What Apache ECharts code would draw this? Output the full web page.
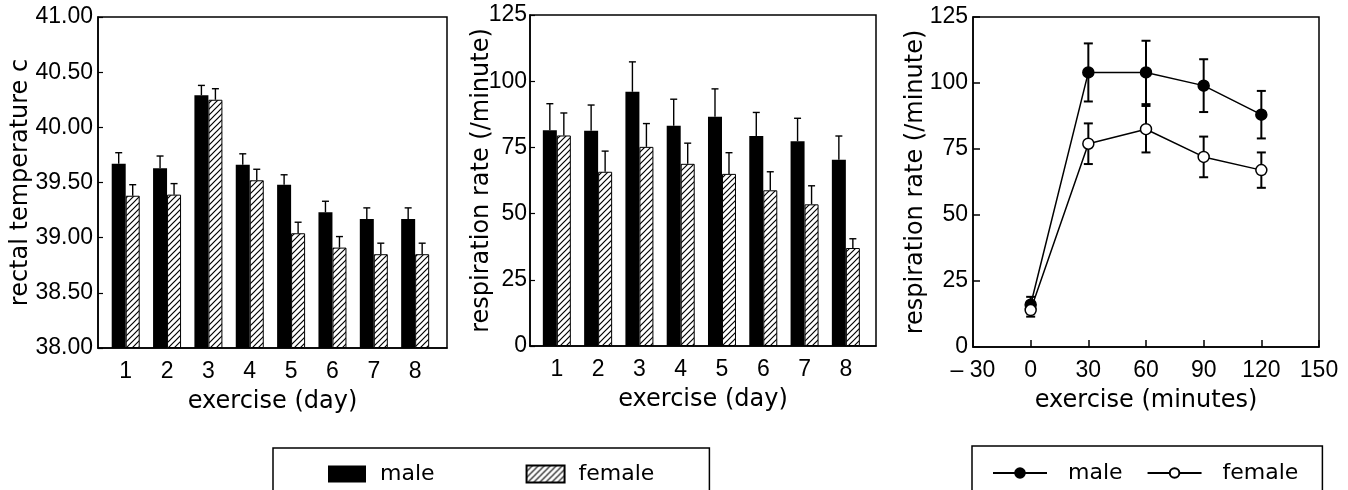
<!DOCTYPE html>
<html>
<head>
<meta charset="utf-8">
<script src="https://cdn.jsdelivr.net/npm/echarts@6/dist/echarts.min.js"></script>
<style>
html,body{margin:0;padding:0;background:#fff;}
#c{width:1348px;height:490px;}
</style>
</head>
<body>
<div id="c"></div>
<script>
// ---- data ----
var days = [1, 2, 3, 4, 5, 6, 7, 8];
var tempMale = [39.67, 39.63, 40.29, 39.66, 39.48, 39.23, 39.17, 39.17];
var tempMaleErr = [0.10, 0.11, 0.09, 0.10, 0.09, 0.10, 0.10, 0.10];
var tempFemale = [39.38, 39.39, 40.25, 39.52, 39.04, 38.91, 38.85, 38.85];
var tempFemaleErr = [0.10, 0.10, 0.10, 0.10, 0.10, 0.10, 0.10, 0.10];

var respMale = [81.5, 81.3, 96.0, 83.2, 86.6, 79.3, 77.3, 70.3];
var respMaleErr = [10.0, 9.7, 11.3, 10.0, 10.5, 8.9, 8.7, 9.0];
var respFemale = [79.5, 65.8, 75.2, 68.8, 65.0, 58.8, 53.5, 37.0];
var respFemaleErr = [8.5, 7.8, 8.8, 7.8, 8.0, 7.0, 7.0, 3.5];

var minutes = [0, 30, 60, 90, 120];
var minMale = [16, 104, 104, 99, 88];
var minMaleErr = [3, 11, 12, 10, 9];
var minFemale = [14, 77, 82.5, 72, 67];
var minFemaleErr = [2.5, 7.7, 8.8, 7.7, 6.7];

var tempTicks = [38, 38.5, 39, 39.5, 40, 40.5, 41];
var respTicks = [0, 25, 50, 75, 100, 125];
var minuteTicks = [-30, 0, 30, 60, 90, 120, 150];

// ---- styles ----
var FONT = 'DejaVu Sans';
var TICK_FONT = 'Liberation Sans';
var BAR_W = 14;

function hatch() {
  var c = document.createElement('canvas');
  c.width = 6; c.height = 6;
  var g = c.getContext('2d');
  g.fillStyle = '#fff'; g.fillRect(0, 0, 6, 6);
  g.strokeStyle = '#000'; g.lineWidth = 1.2;
  g.beginPath();
  g.moveTo(0, 6); g.lineTo(6, 0);
  g.moveTo(-1, 1); g.lineTo(1, -1);
  g.moveTo(5, 7); g.lineTo(7, 5);
  g.stroke();
  return c;
}
var hatchFill = { image: hatch(), repeat: 'repeat' };

function zip(xs, ys, es) {
  return xs.map(function (x, i) { return [x, ys[i], es[i]]; });
}
function pairs(xs, ys) {
  return xs.map(function (x, i) { return [x, ys[i]]; });
}

function barErr(offset) {
  return function (params, api) {
    var x = api.value(0), v = api.value(1), e = api.value(2);
    var p0 = api.coord([x, v]);
    var p1 = api.coord([x, v + e]);
    var cx = p0[0] + offset;
    var st = { stroke: '#000', lineWidth: 1.4 };
    return { type: 'group', children: [
      { type: 'line', shape: { x1: cx, y1: p0[1], x2: cx, y2: p1[1] }, style: st },
      { type: 'line', shape: { x1: cx - 3.5, y1: p1[1], x2: cx + 3.5, y2: p1[1] }, style: st }
    ]};
  };
}
function lineErr(params, api) {
  var x = api.value(0), v = api.value(1), e = api.value(2);
  var pt = api.coord([x, v + e]);
  var pb = api.coord([x, v - e]);
  var cx = pt[0];
  var st = { stroke: '#000', lineWidth: 2 };
  return { type: 'group', children: [
    { type: 'line', shape: { x1: cx, y1: pt[1], x2: cx, y2: pb[1] }, style: st },
    { type: 'line', shape: { x1: cx - 4.5, y1: pt[1], x2: cx + 4.5, y2: pt[1] }, style: st },
    { type: 'line', shape: { x1: cx - 4.5, y1: pb[1], x2: cx + 4.5, y2: pb[1] }, style: st }
  ]};
}

var axisLineStyle = { show: true, onZero: false, lineStyle: { color: '#000', width: 1.5 } };
var labelStyle = { color: '#000', fontSize: 23, fontFamily: TICK_FONT };
var nameStyle = { color: '#000', fontSize: 24, fontFamily: FONT };

function dayAxis(idx, mn, mx) {
  return {
    type: 'value', gridIndex: idx, min: mn, max: mx,
    name: 'exercise (day)', nameLocation: 'middle', nameGap: 42, nameMoveOverlap: false, nameTextStyle: nameStyle,
    axisLine: axisLineStyle, axisTick: { show: false }, splitLine: { show: false },
    axisLabel: Object.assign({ margin: 12, customValues: days }, labelStyle)
  };
}

function gridBox(l, t, w, h) {
  return { left: l, top: t, width: w, height: h, show: true, borderColor: '#000', borderWidth: 1.5,
    containLabel: false, outerBoundsMode: 'none' };
}

var option = {
  backgroundColor: '#fff',
  animation: false,
  grid: [
    gridBox(98, 17, 349, 331),
    gridBox(530, 15, 346, 331),
    gridBox(973, 17, 346, 330)
  ],
  xAxis: [
    dayAxis(0, 0.33, 8.77),
    dayAxis(1, 0.35, 8.73),
    {
      type: 'value', gridIndex: 2, min: -30, max: 150, interval: 30,
      name: 'exercise (minutes)', nameLocation: 'middle', nameGap: 42, nameMoveOverlap: false, nameTextStyle: nameStyle,
      axisLine: axisLineStyle, splitLine: { show: false },
      axisTick: { show: true, inside: true, length: 7, lineStyle: { color: '#000', width: 1.5 } },
      axisLabel: Object.assign({ margin: 12, customValues: minuteTicks,
        formatter: function (v) { return v < 0 ? '\u2013 ' + (-v) : String(v); } }, labelStyle)
    }
  ],
  yAxis: [
    {
      type: 'value', gridIndex: 0, min: 38, max: 41, interval: 0.5, startValue: 38,
      name: 'rectal temperature c', nameLocation: 'middle', nameGap: 65, nameMoveOverlap: false, nameTextStyle: nameStyle,
      axisLine: axisLineStyle, splitLine: { show: false },
      axisTick: { show: true, inside: true, length: 5, lineStyle: { color: '#000', width: 1.2 } },
      axisLabel: Object.assign({ margin: 5, customValues: tempTicks,
        formatter: function (v) { return v.toFixed(2); } }, labelStyle)
    },
    {
      type: 'value', gridIndex: 1, min: 0, max: 125, interval: 25,
      name: 'respiration rate (/minute)', nameLocation: 'middle', nameGap: 36, nameMoveOverlap: false, nameTextStyle: nameStyle,
      axisLine: axisLineStyle, splitLine: { show: false },
      axisTick: { show: true, inside: true, length: 5, lineStyle: { color: '#000', width: 1.2 } },
      axisLabel: Object.assign({ margin: 3, customValues: respTicks }, labelStyle)
    },
    {
      type: 'value', gridIndex: 2, min: 0, max: 125, interval: 25,
      name: 'respiration rate (/minute)', nameLocation: 'middle', nameGap: 45, nameMoveOverlap: false, nameTextStyle: nameStyle,
      axisLine: axisLineStyle, splitLine: { show: false },
      axisTick: { show: true, inside: true, length: 7, lineStyle: { color: '#000', width: 1.5 } },
      axisLabel: Object.assign({ margin: 5, customValues: respTicks }, labelStyle)
    }
  ],
  legend: [
    {
      data: ['male', 'female'], left: 273, top: 448, icon: 'rect',
      padding: [15, 55, 40, 55], itemGap: 91, itemWidth: 38, itemHeight: 17,
      borderColor: '#000', borderWidth: 1.5, selectedMode: false,
      textStyle: { color: '#000', fontSize: 22, fontFamily: FONT, padding: [0, 0, 0, 9] }
    },
    {
      data: ['male_line', 'female_line'], left: 972, top: 446,
      padding: [16, 24, 40, 20], itemGap: 24, itemWidth: 54, itemHeight: 12,
      borderColor: '#000', borderWidth: 1.5, selectedMode: false,
      formatter: function (n) { return n.replace('_line', ''); },
      textStyle: { color: '#000', fontSize: 22, fontFamily: FONT, padding: [0, 0, 0, 16] }
    }
  ],
  series: [
    { name: 'male', type: 'bar', xAxisIndex: 0, yAxisIndex: 0, data: pairs(days, tempMale),
      barWidth: BAR_W, barGap: '0%', itemStyle: { color: '#000' } },
    { name: 'female', type: 'bar', xAxisIndex: 0, yAxisIndex: 0, data: pairs(days, tempFemale),
      barWidth: BAR_W, barGap: '0%', itemStyle: { color: hatchFill, borderColor: '#000', borderWidth: 1 } },
    { type: 'custom', xAxisIndex: 0, yAxisIndex: 0, renderItem: barErr(-BAR_W / 2),
      data: zip(days, tempMale, tempMaleErr), encode: { x: 0, y: 1 }, z: 3 },
    { type: 'custom', xAxisIndex: 0, yAxisIndex: 0, renderItem: barErr(BAR_W / 2),
      data: zip(days, tempFemale, tempFemaleErr), encode: { x: 0, y: 1 }, z: 3 },

    { name: 'male', type: 'bar', xAxisIndex: 1, yAxisIndex: 1, data: pairs(days, respMale),
      barWidth: BAR_W, barGap: '0%', itemStyle: { color: '#000' } },
    { name: 'female', type: 'bar', xAxisIndex: 1, yAxisIndex: 1, data: pairs(days, respFemale),
      barWidth: BAR_W, barGap: '0%', itemStyle: { color: hatchFill, borderColor: '#000', borderWidth: 1 } },
    { type: 'custom', xAxisIndex: 1, yAxisIndex: 1, renderItem: barErr(-BAR_W / 2),
      data: zip(days, respMale, respMaleErr), encode: { x: 0, y: 1 }, z: 3 },
    { type: 'custom', xAxisIndex: 1, yAxisIndex: 1, renderItem: barErr(BAR_W / 2),
      data: zip(days, respFemale, respFemaleErr), encode: { x: 0, y: 1 }, z: 3 },

    { type: 'custom', xAxisIndex: 2, yAxisIndex: 2, renderItem: lineErr,
      data: zip(minutes, minMale, minMaleErr), encode: { x: 0, y: 1 }, z: 1 },
    { type: 'custom', xAxisIndex: 2, yAxisIndex: 2, renderItem: lineErr,
      data: zip(minutes, minFemale, minFemaleErr), encode: { x: 0, y: 1 }, z: 1 },
    { name: 'male_line', type: 'line', xAxisIndex: 2, yAxisIndex: 2, data: pairs(minutes, minMale),
      symbol: 'circle', symbolSize: 11, z: 4,
      lineStyle: { color: '#000', width: 1.5 }, itemStyle: { color: '#000', borderColor: '#000', borderWidth: 1.5 } },
    { name: 'female_line', type: 'line', xAxisIndex: 2, yAxisIndex: 2, data: pairs(minutes, minFemale),
      symbol: 'circle', symbolSize: 11, z: 4,
      lineStyle: { color: '#000', width: 1.5 }, itemStyle: { color: '#fff', borderColor: '#000', borderWidth: 1.5 } }
  ]
};

var chart = echarts.init(document.getElementById('c'), null, { renderer: 'canvas' });
chart.setOption(option);
</script>
</body>
</html>
